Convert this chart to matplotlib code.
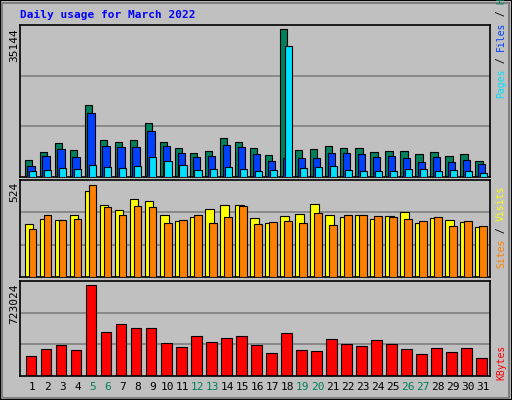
import matplotlib
matplotlib.use("Agg")
import matplotlib.pyplot as plt
from matplotlib.patches import Rectangle

days = list(range(1, 32))
weekend = [5, 6, 12, 13, 19, 20, 26, 27]
hits = [4000, 5900, 8050, 6400, 17150, 8800, 8300, 8800, 12900, 8300, 6900, 5700, 6150, 9300, 8300, 6900, 5200, 35144, 6400, 6650, 7350, 6900, 6900, 5900, 6150, 6150, 5450, 5900, 5000, 5450, 3800]
files = [2550, 4950, 6650, 4700, 15250, 7350, 7100, 7100, 10950, 7350, 5600, 4700, 4950, 7600, 7100, 5450, 3750, 4450, 4450, 4450, 5600, 5600, 5450, 4700, 4950, 4450, 3500, 4700, 3500, 4000, 3050]
pages = [1350, 1600, 2100, 1850, 2800, 2350, 2100, 2550, 4700, 3750, 2800, 1600, 1850, 2350, 1850, 1350, 1600, 31100, 2100, 2350, 2550, 1600, 1350, 1350, 1350, 1850, 1850, 1350, 1600, 1350, 900]
visits = [303, 331, 325, 354, 486, 407, 378, 440, 429, 354, 320, 343, 388, 410, 407, 337, 308, 348, 359, 416, 354, 343, 354, 331, 348, 371, 308, 337, 325, 314, 286]
sites = [274, 354, 325, 331, 524, 395, 354, 405, 395, 308, 325, 354, 308, 343, 405, 303, 314, 320, 308, 365, 297, 354, 354, 348, 343, 331, 320, 343, 291, 320, 291]
kbytes = [161000, 216000, 248000, 208000, 723024, 351000, 414000, 383000, 383000, 264000, 232000, 319000, 272000, 304000, 319000, 248000, 185000, 343000, 208000, 200000, 296000, 256000, 240000, 288000, 256000, 216000, 177000, 224000, 193000, 224000, 145000]

C_HITS, C_FILES, C_PAGES = "#00805c", "#0040ff", "#00e0ff"
C_VIS, C_SITES, C_KB = "#ffff00", "#ff8000", "#ff0000"
BG = "#c0c0c0"
mono = "DejaVu Sans Mono"

fig = plt.figure(figsize=(5.12, 4.0), dpi=100, facecolor=BG)
fig.patches.append(Rectangle((0, 0), 1, 1, transform=fig.transFigure, fill=False, ec="black", lw=1.5))
fig.patches.append(Rectangle((0.004, 0.006), 0.99, 0.986, transform=fig.transFigure, fill=False, ec="#808080", lw=1.5))

def mkax(y0, y1):
    ax = fig.add_axes([20/512, 1 - y1/400, 470/512, (y1 - y0)/400])
    ax.set_facecolor(BG)
    ax.set_xlim(0, 31.3)
    for s in ax.spines.values():
        s.set_color("black"); s.set_linewidth(1.2)
    ax.set_yticks([]); ax.set_xticks([])
    return ax

x0 = [d - 1 for d in days]
kw = dict(align="edge", edgecolor="black", linewidth=0.8)

ax1 = mkax(25, 177)
top1 = 35144 * 1.03
ax1.set_ylim(0, top1)
for g in (top1/3, 2*top1/3):
    ax1.axhline(g, color="#808080", lw=1.2, zorder=0)
ax1.bar([x + 0.33 for x in x0], hits, 0.48, color=C_HITS, zorder=2, **kw)
ax1.bar([x + 0.49 for x in x0], files, 0.48, color=C_FILES, zorder=3, **kw)
ax1.bar([x + 0.62 for x in x0], pages, 0.47, color=C_PAGES, zorder=4, **kw)

ax2 = mkax(180, 277)
top2 = 524 * 1.05
ax2.set_ylim(0, top2)
for g in (top2/3, 2*top2/3):
    ax2.axhline(g, color="#808080", lw=1.2, zorder=0)
ax2.bar([x + 0.33 for x in x0], visits, 0.56, color=C_VIS, zorder=2, **kw)
ax2.bar([x + 0.6 for x in x0], sites, 0.49, color=C_SITES, zorder=3, **kw)

ax3 = mkax(281, 376)
top3 = 723024 * 1.04
ax3.set_ylim(0, top3)
for g in (top3/3, 2*top3/3):
    ax3.axhline(g, color="#808080", lw=1.2, zorder=0)
ax3.bar([x + 0.4 for x in x0], kbytes, 0.69, color=C_KB, zorder=2, **kw)
ax3.set_xticks([x + 0.82 for x in x0])
ax3.set_xticklabels([str(d) for d in days], fontsize=8, family=mono)
ax3.tick_params(axis="x", length=0, pad=4)
for lab, d in zip(ax3.get_xticklabels(), days):
    lab.set_color(C_HITS if d in weekend else "black")

fig.text(20/512, 1 - 15/400, "Daily usage for March 2022", color="#0000ff",
         fontsize=8, family=mono, weight="bold", va="center", ha="left")

for txt, ytop in (("35144", 28), ("524", 182), ("723024", 283)):
    fig.text(14/512, 1 - ytop/400, txt, rotation=90, fontsize=8, family=mono,
             ha="center", va="top")

def vlabel(parts, ybottom, x=501):
    fs = 7
    cw = 0.602 * fs * 100 / 72
    y = ybottom
    for s, c in parts:
        fig.text(x/512, 1 - y/400, s, rotation=90, fontsize=fs, family=mono,
                 color=c, ha="center", va="bottom")
        y -= cw * len(s)

vlabel([("Pages", C_PAGES), (" / ", "black"), ("Files", C_FILES), (" / ", "black"), ("Hits", C_HITS)], 98)
vlabel([("Sites", C_SITES), (" / ", "black"), ("Visits", C_VIS)], 268)
vlabel([("KBytes", C_KB)], 380)

fig.savefig("out.png", dpi=100, facecolor=BG)
